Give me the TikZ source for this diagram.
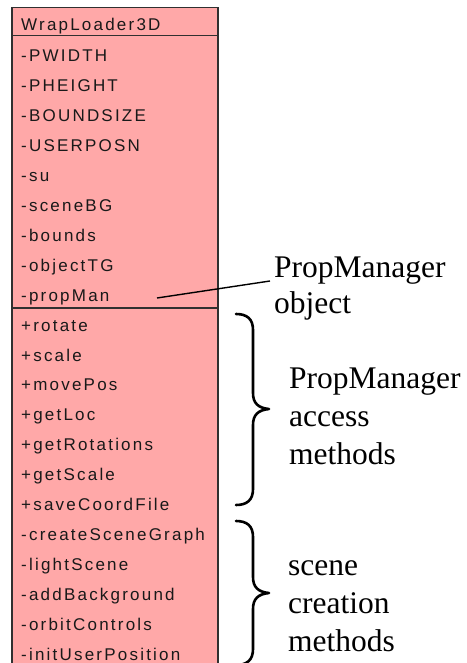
\documentclass[tikz,border=0pt]{standalone}
\usepackage{fontspec}
\setmainfont{Liberation Serif}
\newfontfamily\umlfont[LetterSpace=13]{Liberation Sans}
\definecolor{classfill}{HTML}{FFA8A8}
\definecolor{classline}{HTML}{303030}

\begin{document}
\begin{tikzpicture}[x=1pt,y=-1pt,
  classbox/.style={draw=classline, fill=classfill, line width=1.5pt,
    rectangle, inner sep=0pt, outer sep=0pt, anchor=north west},
  divider/.style={draw=classline, line width=1.5pt},
  member/.style={anchor=base west, inner sep=0pt, text=black!90,
    font={\umlfont\fontsize{17}{17}\selectfont}},
  note/.style={anchor=base west, inner sep=0pt,
    font={\fontsize{31.5}{31.5}\selectfont}},
  lead/.style={draw=black, line width=1.4pt},
  bracepath/.style={draw=black, line width=2.6pt, line cap=round, line join=round}]

\useasboundingbox (0,0) rectangle (466,663);

% class box (runs past the lower edge)
\begin{scope}
  \clip (0,0) rectangle (466,663);
  \node[classbox, minimum width=206pt, minimum height=680pt] (cls) at (12,7.5) {};
  \coordinate (titleL) at (12,35.5);  \coordinate (titleR) at (218,35.5);
  \coordinate (opsL)   at (12,308);   \coordinate (opsR)   at (218,308);
  \draw[divider] (titleL) -- (titleR);
  \draw[divider] (opsL) -- (opsR);
\end{scope}

% class name and members
\node[member] (title) at (21,30.5) {WrapLoader3D};
\foreach \txt [count=\i from 0] in {-PWIDTH,-PHEIGHT,-BOUNDSIZE,-USERPOSN,-su,-sceneBG,-bounds,-objectTG,-propMan,+rotate,+scale,+movePos,+getLoc,+getRotations,+getScale,+saveCoordFile,-createSceneGraph,-lightScene,-addBackground,-orbitControls,-initUserPosition}
  \node[member] (m\i) at (21,61.5+29.95*\i) {\txt};

% annotations
\node[note] (pmA) at (274,277) {PropManager};
\node[note] (pmB) at (274,313) {object};

\node[note] (acA) at (289,388) {PropManager};
\node[note] (acB) at (289,426) {access};
\node[note] (acC) at (289,464) {methods};

\node[note] (scA) at (288,575) {scene};
\node[note] (scB) at (288,613) {creation};
\node[note] (scC) at (288,651) {methods};

% leader from the propMan field to its note
\coordinate (leadS) at (157,298);
\draw[lead] (leadS) -- ([xshift=-4pt,yshift=-4pt]pmA.base west);

% braces grouping the methods
\draw[bracepath] (236,314) .. controls (247,314) and (253,319) .. (253,330)
  -- (253,393) .. controls (253,403) and (258,408) .. (269,409)
  .. controls (258,410) and (253,415) .. (253,425)
  -- (253,489) .. controls (253,500) and (247,505) .. (236,505);
\draw[bracepath] (236,521) .. controls (247,521) and (253,526) .. (253,537)
  -- (253,577) .. controls (253,587) and (258,592) .. (269,593)
  .. controls (258,594) and (253,599) .. (253,609)
  -- (253,649) .. controls (253,660) and (247,665) .. (236,665);
\end{tikzpicture}
\end{document}
